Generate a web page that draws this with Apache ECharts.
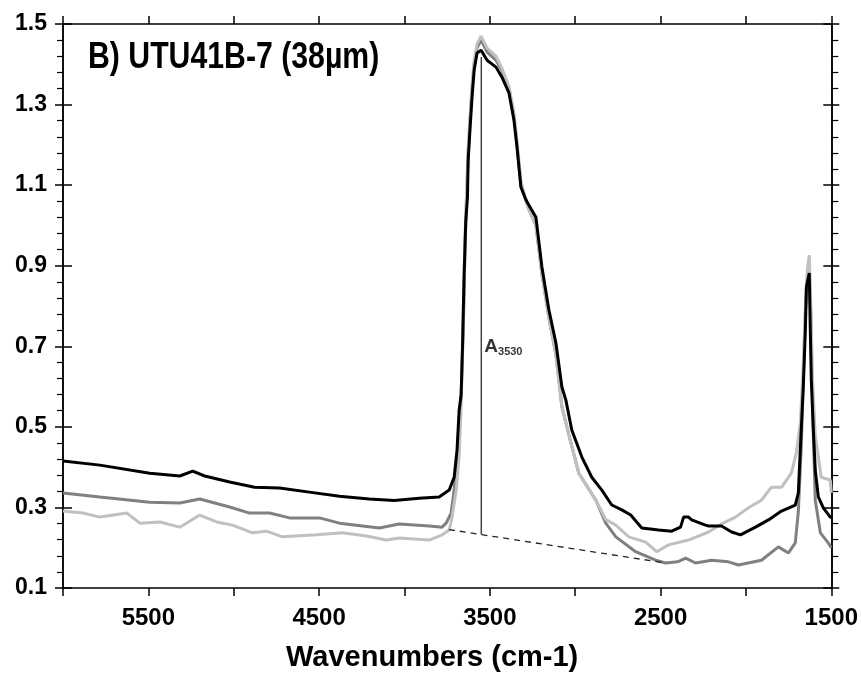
<!DOCTYPE html>
<html>
<head>
<meta charset="utf-8">
<script src="https://cdn.jsdelivr.net/npm/echarts@6/dist/echarts.min.js"></script>
<style>
  html, body { margin: 0; padding: 0; background: #fff; }
  #chart { width: 861px; height: 679px; }
</style>
</head>
<body>
<div id="chart"></div>
<script>
// spectra (wavenumber, absorbance)
const blackWn = [6000, 5784, 5492, 5316, 5240, 5170, 5024, 4878, 4732, 4557, 4381, 4206, 4060, 3914, 3797, 3738, 3709, 3692, 3680, 3668, 3660, 3651, 3641, 3631, 3627, 3616, 3604, 3592, 3575, 3551, 3516, 3464, 3429, 3388, 3359, 3341, 3318, 3288, 3271, 3230, 3195, 3154, 3113, 3078, 3055, 3020, 2961, 2903, 2844, 2786, 2727, 2675, 2610, 2511, 2435, 2383, 2365, 2336, 2318, 2237, 2219, 2143, 2084, 2032, 1944, 1868, 1792, 1711, 1693, 1681, 1664, 1652, 1646, 1629, 1623, 1617, 1605, 1594, 1576, 1547, 1506, 1500]
const blackAbs = [0.415, 0.405, 0.385, 0.378, 0.39, 0.378, 0.363, 0.35, 0.348, 0.338, 0.328, 0.321, 0.317, 0.323, 0.326, 0.343, 0.375, 0.443, 0.54, 0.58, 0.70, 0.87, 1.01, 1.07, 1.16, 1.24, 1.32, 1.385, 1.428, 1.435, 1.41, 1.393, 1.368, 1.329, 1.262, 1.195, 1.095, 1.063, 1.05, 1.02, 0.897, 0.79, 0.708, 0.599, 0.567, 0.492, 0.425, 0.375, 0.343, 0.306, 0.294, 0.281, 0.249, 0.244, 0.241, 0.251, 0.276, 0.276, 0.269, 0.256, 0.254, 0.254, 0.239, 0.232, 0.251, 0.269, 0.291, 0.306, 0.336, 0.45, 0.60, 0.74, 0.847, 0.882, 0.74, 0.616, 0.492, 0.393, 0.326, 0.299, 0.276, 0.275]

const grayWn = [6000, 5784, 5492, 5316, 5199, 5024, 4907, 4790, 4673, 4498, 4381, 4147, 4031, 3855, 3780, 3756, 3727, 3709, 3692, 3680, 3668, 3655, 3645, 3635, 3627, 3616, 3604, 3592, 3575, 3551, 3516, 3464, 3429, 3388, 3359, 3341, 3318, 3288, 3271, 3230, 3195, 3154, 3113, 3078, 3037, 2979, 2879, 2821, 2762, 2646, 2529, 2470, 2400, 2353, 2295, 2201, 2102, 2044, 1909, 1810, 1751, 1711, 1693, 1676, 1664, 1652, 1640, 1629, 1620, 1610, 1594, 1564, 1518, 1500]
const grayAbs = [0.336, 0.326, 0.313, 0.311, 0.321, 0.301, 0.286, 0.286, 0.274, 0.274, 0.261, 0.249, 0.259, 0.254, 0.251, 0.261, 0.286, 0.343, 0.41, 0.52, 0.58, 0.75, 0.95, 1.08, 1.18, 1.26, 1.34, 1.40, 1.44, 1.46, 1.43, 1.41, 1.385, 1.34, 1.27, 1.2, 1.10, 1.06, 1.04, 1.0, 0.88, 0.77, 0.68, 0.55, 0.48, 0.385, 0.318, 0.261, 0.227, 0.19, 0.169, 0.162, 0.165, 0.174, 0.162, 0.169, 0.165, 0.157, 0.169, 0.202, 0.187, 0.212, 0.29, 0.45, 0.62, 0.78, 0.87, 0.89, 0.78, 0.55, 0.318, 0.237, 0.212, 0.2]

const lightWn = [6000, 5883, 5784, 5626, 5550, 5433, 5316, 5199, 5100, 5007, 4890, 4808, 4714, 4516, 4364, 4223, 4107, 4031, 3855, 3779, 3738, 3721, 3697, 3680, 3668, 3657, 3647, 3637, 3627, 3616, 3604, 3592, 3575, 3551, 3516, 3464, 3429, 3388, 3359, 3341, 3318, 3288, 3271, 3230, 3195, 3154, 3113, 3078, 3037, 2979, 2879, 2821, 2762, 2686, 2587, 2523, 2453, 2336, 2219, 2143, 2061, 1985, 1909, 1851, 1792, 1734, 1705, 1681, 1664, 1652, 1640, 1629, 1620, 1610, 1594, 1576, 1559, 1506, 1500]
const lightAbs = [0.291, 0.286, 0.276, 0.286, 0.261, 0.264, 0.251, 0.281, 0.264, 0.256, 0.237, 0.241, 0.227, 0.232, 0.237, 0.229, 0.219, 0.224, 0.219, 0.232, 0.244, 0.276, 0.343, 0.425, 0.55, 0.75, 0.95, 1.08, 1.19, 1.27, 1.35, 1.41, 1.45, 1.47, 1.44, 1.42, 1.39, 1.345, 1.28, 1.21, 1.11, 1.06, 1.04, 1.0, 0.88, 0.77, 0.68, 0.55, 0.48, 0.385, 0.318, 0.27, 0.256, 0.227, 0.214, 0.19, 0.207, 0.219, 0.239, 0.259, 0.276, 0.299, 0.318, 0.35, 0.35, 0.385, 0.435, 0.51, 0.66, 0.80, 0.89, 0.926, 0.80, 0.62, 0.48, 0.425, 0.375, 0.368, 0.336]

// A3530 peak height and the baseline under the OH band
const peakLine = [[3550, 0.233], [3550, 1.418]]
const baseLine = [[3740, 0.245], [2470, 0.162]]
const peakLabelAt = [3550, 0.70]

const xLabels = [1500, 2500, 3500, 4500, 5500]
const titleText = 'B) UTU41B-7 (38µm)'

// no condensed face is installed, Liberation Sans is the narrowest bold we have
const FONT = '"Liberation Sans", Arial, sans-serif'
const zip = (xs, ys) => xs.map((x, i) => [x, ys[i]])

const chart = echarts.init(document.getElementById('chart'), null, { renderer: 'canvas' })

const xBase = {
  type: 'value', min: 1500, max: 6000, interval: 500, inverse: true,
  axisLine: { show: true, lineStyle: { color: '#000', width: 1.5 } },
  axisTick: { show: true, length: 8, lineStyle: { color: '#000', width: 1.5 } },
  splitLine: { show: false },
}
const yBase = {
  type: 'value', min: 0.1, max: 1.5, interval: 0.2,
  axisLine: { show: true, lineStyle: { color: '#000', width: 1.5 } },
  axisTick: { show: true, length: 8, lineStyle: { color: '#000', width: 1.5 } },
  splitLine: { show: false },
}

chart.setOption({
  animation: false,
  backgroundColor: '#fff',
  graphic: [{
    // title squeezed a bit to get closer to the condensed face of the original
    type: 'text', x: 88, y: 40, scaleX: 0.84, z: 10,
    style: { text: titleText, font: 'bold 36px ' + FONT, fill: '#000', verticalAlign: 'top' },
  }],
  grid: { left: 63, right: 28, top: 24, bottom: 91 },
  xAxis: [
    {
      ...xBase, position: 'bottom',
      name: 'Wavenumbers (cm-1)', nameLocation: 'middle', nameGap: 55,
      nameTextStyle: { fontFamily: FONT, fontSize: 29, fontWeight: 'bold', color: '#000', padding: [0, 30, 0, 0] },
      axisLabel: {
        margin: 18, fontFamily: FONT, fontSize: 24, fontWeight: 'bold', color: '#000',
        formatter: v => xLabels.includes(v) ? String(v) : '',
      },
    },
    { ...xBase, position: 'top', axisLabel: { show: false } },
  ],
  yAxis: [
    {
      ...yBase, position: 'left',
      minorTick: { show: true, splitNumber: 5, length: 6, lineStyle: { color: '#000', width: 1.2 } },
      axisLabel: {
        margin: 16, fontFamily: FONT, fontSize: 23, fontWeight: 'bold', color: '#000',
        formatter: v => v.toFixed(1),
      },
    },
    {
      ...yBase, position: 'right',
      minorTick: { show: true, splitNumber: 5, length: 7, lineStyle: { color: '#000', width: 1.2 } },
      axisLabel: { show: false },
    },
    // inner half of the crossing major ticks
    { ...yBase, position: 'left', axisTick: { ...yBase.axisTick, inside: true, length: 9 }, axisLabel: { show: false } },
    { ...yBase, position: 'right', axisTick: { ...yBase.axisTick, inside: true, length: 8 }, axisLabel: { show: false } },
  ],
  series: [
    {
      type: 'line', data: zip(grayWn, grayAbs), symbol: 'none',
      lineStyle: { color: '#808080', width: 3 }, z: 2,
    },
    {
      type: 'line', data: zip(lightWn, lightAbs), symbol: 'none',
      lineStyle: { color: '#c0c0c0', width: 3 }, z: 3,
    },
    {
      type: 'line', data: zip(blackWn, blackAbs), symbol: 'none',
      lineStyle: { color: '#000', width: 3 }, z: 4,
    },
    {
      type: 'line', data: peakLine, symbol: 'none',
      lineStyle: { color: '#3c4858', width: 1.5 }, z: 5,
    },
    {
      type: 'line', data: baseLine, symbol: 'none',
      lineStyle: { color: '#1c2838', width: 1.3, type: [6, 5] }, z: 5,
    },
    {
      type: 'scatter', data: [peakLabelAt], symbolSize: 0, z: 6,
      label: {
        show: true, position: 'right', distance: 3,
        formatter: '{a|A}{s|3530}',
        rich: {
          a: { fontFamily: FONT, fontSize: 19, fontWeight: 'bold', color: '#000' },
          s: { fontFamily: FONT, fontSize: 11, fontWeight: 'bold', color: '#000', padding: [12, 0, 0, 0] },
        },
      },
    },
  ],
})
</script>
</body>
</html>
